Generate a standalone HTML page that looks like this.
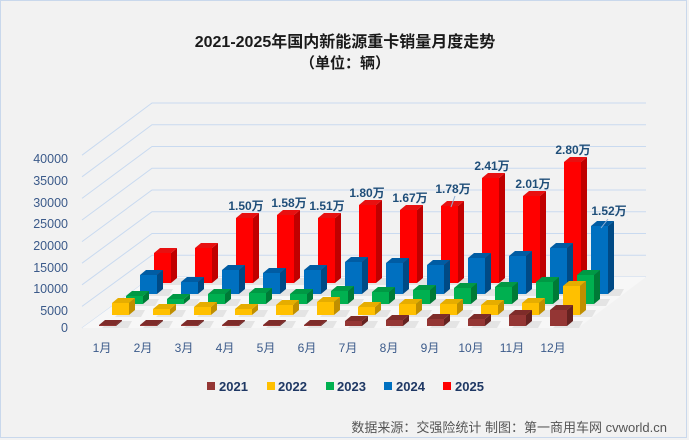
<!DOCTYPE html>
<html><head><meta charset="utf-8"><style>
html,body{margin:0;padding:0;background:#f2f2f2;}
svg{display:block;font-family:"Liberation Sans","Noto Sans CJK SC",sans-serif;}
</style></head><body>
<svg id="s" width="689" height="440" viewBox="0 0 689 440" xmlns="http://www.w3.org/2000/svg">
<rect x="0" y="0" width="689" height="440" fill="#f2f2f2"/>
<rect x="0.5" y="0.5" width="686" height="437" fill="none" stroke="#c9d8ec" stroke-width="1"/>
<text x="345" y="47" text-anchor="middle" font-size="16" font-weight="bold" fill="#1a1a1a">2021-2025年国内新能源重卡销量月度走势</text>
<text x="345" y="68" text-anchor="middle" font-size="15" font-weight="bold" fill="#1a1a1a">（单位：辆）</text>
<g id="grid" stroke="#c9daf0" stroke-width="1" fill="none"></g>
<polygon points="82,328 578,328 646,277 152,277" fill="#f7f7f7"/>
<g id="bars"></g>
<g font-size="12.5" fill="#3b5a8a" text-anchor="end">
<text x="68" y="332">0</text><text x="68" y="315">5000</text><text x="68" y="293">10000</text><text x="68" y="272">15000</text><text x="68" y="250">20000</text><text x="68" y="228">25000</text><text x="68" y="207">30000</text><text x="68" y="185">35000</text><text x="68" y="163">40000</text>
</g>
<g font-size="12" fill="#3b5a8a" text-anchor="middle">
<text x="102" y="352">1月</text><text x="143" y="352">2月</text><text x="184" y="352">3月</text><text x="225" y="352">4月</text><text x="266" y="352">5月</text><text x="307" y="352">6月</text><text x="348" y="352">7月</text><text x="389" y="352">8月</text><text x="430" y="352">9月</text><text x="471" y="352">10月</text><text x="512" y="352">11月</text><text x="553" y="352">12月</text>
</g>
<g font-size="12" font-weight="bold" fill="#1f4e79" text-anchor="middle">
<text x="246" y="210">1.50万</text><text x="289" y="207">1.58万</text><text x="327" y="210">1.51万</text><text x="367" y="197">1.80万</text><text x="410" y="202">1.67万</text><text x="453" y="193">1.78万</text><text x="492" y="170">2.41万</text><text x="533" y="188">2.01万</text><text x="573" y="154">2.80万</text><text x="609" y="215">1.52万</text>
</g>
<line x1="451" y1="207" x2="455" y2="196" stroke="#8fb0d8" stroke-width="1"/>
<line x1="601" y1="228" x2="608" y2="219" stroke="#8fb0d8" stroke-width="1"/>
<g font-size="13" font-weight="bold" fill="#1f3864">
<rect x="207" y="382" width="8" height="8" fill="#943634"/><text x="219" y="391">2021</text>
<rect x="267" y="382" width="8" height="8" fill="#ffc000"/><text x="278" y="391">2022</text>
<rect x="326" y="382" width="8" height="8" fill="#00b050"/><text x="337" y="391">2023</text>
<rect x="384" y="382" width="8" height="8" fill="#0070c0"/><text x="396" y="391">2024</text>
<rect x="443" y="382" width="8" height="8" fill="#ff0000"/><text x="455" y="391">2025</text>
</g>
<text x="667" y="432" text-anchor="end" font-size="13" fill="#555">数据来源：交强险统计 制图：第一商用车网 cvworld.cn</text>
</svg>
<script>
var NS="http://www.w3.org/2000/svg";
function el(p,tag,a){var e=document.createElementNS(NS,tag);for(var k in a)e.setAttribute(k,a[k]);p.appendChild(e);return e;}
var g=document.getElementById('grid');
for(var i=0;i<=8;i++){var fy=328-i*21.6,by=277-i*21.75;
 el(g,'polyline',{points:'82,'+fy+' 152,'+by+' 646,'+by});}
var b=document.getElementById('bars');
var S=[
 {x0:154,base:283,c:['#ff0000','#c00000','#e81010'],t:[253,248,218,215,218,205,210,206,178,196,162]},
 {x0:140,base:294,c:['#0070c0','#004a85','#005ca3'],t:[275,282,270,273,270,262,263,265,258,256,248,226]},
 {x0:126,base:304,c:['#00b050','#007a36','#009944'],t:[296,299,294,293,294,291,292,290,288,287,282,275]},
 {x0:112,base:315,c:['#ffc000','#c08f00','#e6ad00'],t:[303,309,307,309,305,302,307,304,304,305,303,286]},
 {x0:99,base:326,c:['#943634','#652220','#7e2c2a'],t:[325,325,325,325,325,325,321,320,319,319,315,310]}
];
var W=17,dx=6,dy=5;
S.forEach(function(s){s.t.forEach(function(t,i){
 var x=s.x0+41*i,bs=s.base;
 el(b,'polygon',{points:(x+3)+','+(bs+2)+' '+(x+W+dx+6)+','+(bs+2)+' '+(x+W+dx+10)+','+(bs-dy)+' '+(x+dx+4)+','+(bs-dy),fill:'#dcdcdc',opacity:'0.7'});
 el(b,'rect',{x:x,y:t,width:W,height:bs-t,fill:s.c[0]});
 el(b,'polygon',{points:(x+W)+','+t+' '+(x+W+dx)+','+(t-dy)+' '+(x+W+dx)+','+(bs-dy)+' '+(x+W)+','+bs,fill:s.c[1]});
 el(b,'polygon',{points:x+','+t+' '+(x+dx)+','+(t-dy)+' '+(x+W+dx)+','+(t-dy)+' '+(x+W)+','+t,fill:s.c[2]});
});});
</script>
</body></html>
